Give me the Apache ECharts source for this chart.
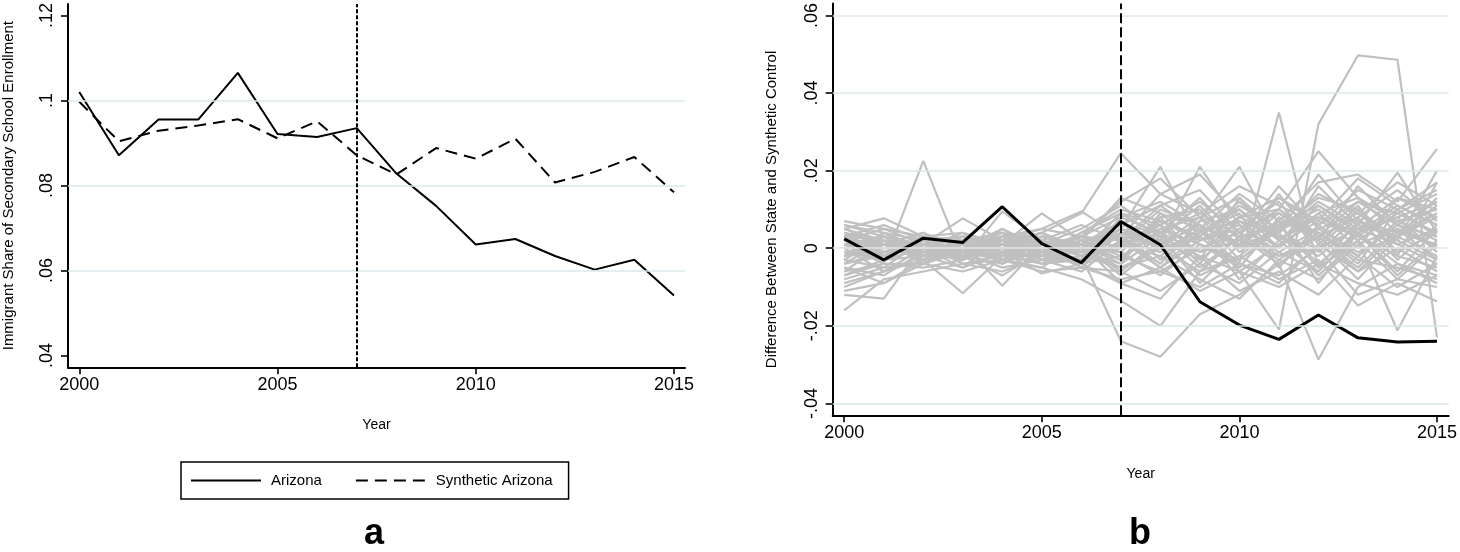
<!DOCTYPE html>
<html>
<head>
<meta charset="utf-8">
<script src="https://cdn.jsdelivr.net/npm/echarts@6/dist/echarts.min.js"></script>
<style>
html,body{margin:0;padding:0;background:#fff;}
#chart{width:1460px;height:552px;}
</style>
</head>
<body>
<div id="chart"></div>
<script>
// ---------- data ----------
const years = [2000,2001,2002,2003,2004,2005,2006,2007,2008,2009,2010,2011,2012,2013,2014,2015];
const yearTicks = [2000, 2005, 2010, 2015];
const treatmentYear = 2007;

// panel a
const arizona      = [0.1020,0.0871,0.0955,0.0955,0.1065,0.0921,0.0914,0.0935,0.0828,0.0752,0.0661,0.0674,0.0634,0.0602,0.0625,0.0541];
const synthArizona = [0.0997,0.0904,0.0929,0.0941,0.0956,0.0911,0.0951,0.0871,0.0826,0.0888,0.0863,0.0910,0.0807,0.0832,0.0867,0.0784];
const leftTicks = [0.04, 0.06, 0.08, 0.10, 0.12];
const leftGrid  = [0.06, 0.08, 0.10];

// panel b
const arizonaGap = [0.0024,-0.0030,0.0026,0.0015,0.0107,0.0012,-0.0037,0.0069,0.0009,-0.0138,-0.0198,-0.0235,-0.0172,-0.0231,-0.0242,-0.0240];
const rightTicks = [-0.04, -0.02, 0, 0.02, 0.04, 0.06];
const rightGrid  = [-0.04, -0.02, 0, 0.02, 0.04, 0.06];

const placebo01 = [ 0.004, 0.002,-0.001, 0.001,-0.002, 0.003, 0.001, 0.006, 0.004, 0.009, 0.003, 0.006, 0.011, 0.004, 0.008, 0.012];
const placebo02 = [-0.003,-0.005, 0.002,-0.001, 0.003,-0.002,-0.004, 0.002,-0.005, 0.004, 0.010, 0.002,-0.006, 0.005, 0.001,-0.004];
const placebo03 = [ 0.001,-0.004, 0.0225,-0.003, 0.002, 0.000, 0.003, 0.008, 0.012, 0.006, 0.001, 0.009, 0.004,-0.002, 0.006, 0.003];
const placebo04 = [-0.002, 0.000, 0.001,-0.002, 0.001, 0.004, 0.009, 0.0245, 0.014, 0.019, 0.008, 0.013, 0.006, 0.015, 0.010, 0.017];
const placebo05 = [ 0.002, 0.001,-0.002, 0.000,-0.001, 0.002,-0.002,-0.024,-0.028,-0.017,-0.012,-0.004, 0.003,-0.006, 0.004, 0.001];
const placebo06 = [-0.002, 0.001,-0.001, 0.002,-0.003, 0.001,-0.002, 0.004, 0.003,-0.002,-0.006,-0.021, 0.032, 0.0497, 0.0486,-0.023];
const placebo07 = [ 0.000, 0.003,-0.002, 0.001, 0.004,-0.003, 0.002,-0.003, 0.005, 0.001,-0.004, 0.035,-0.005, 0.007, 0.002,-0.003];
const placebo08 = [-0.016,-0.008,-0.006,-0.004,-0.003,-0.006,-0.005,-0.008,-0.006,-0.010,-0.004,-0.007, 0.000,-0.012,-0.008,-0.010];
const placebo09 = [ 0.007, 0.005, 0.003, 0.001, 0.002, 0.004, 0.000, 0.005, 0.021, 0.002, 0.008, 0.004, 0.012, 0.006, 0.003, 0.009];
const placebo10 = [-0.012,-0.013, 0.001,-0.004,-0.006,-0.002, 0.001,-0.006, 0.002, 0.021, 0.006,-0.001, 0.005, 0.009, 0.001, 0.005];
const placebo11 = [ 0.005, 0.0077, 0.003,-0.001, 0.000, 0.002,-0.001, 0.003,-0.004, 0.007, 0.021, 0.002, 0.008, 0.004, 0.011, 0.006];
const placebo12 = [-0.009,-0.006,-0.003,-0.0116,-0.002,-0.004,-0.003, 0.001,-0.002,-0.008,-0.013,-0.003, 0.004,-0.003,-0.005,-0.008];
const placebo13 = [ 0.003,-0.002, 0.001, 0.0077, 0.002,-0.001, 0.004, 0.009, 0.006, 0.012, 0.004, 0.010, 0.025, 0.013, 0.007, 0.010];
const placebo14 = [-0.006,-0.004,-0.005,-0.003, 0.0095, 0.002,-0.002,-0.005, 0.000,-0.006, 0.003,-0.004,-0.0287,-0.010,-0.004,-0.007];
const placebo15 = [ 0.002,-0.001, 0.003, 0.001,-0.0097, 0.001, 0.003, 0.000, 0.007, 0.003,-0.005, 0.008, 0.002,-0.008, 0.003, 0.008];
const placebo16 = [-0.004, 0.002,-0.003, 0.000, 0.001, 0.009, 0.002, 0.013, 0.009, 0.005, 0.014, 0.007, 0.017, 0.019, 0.012, 0.0256];
const placebo17 = [ 0.006, 0.004, 0.002, 0.003,-0.001,-0.0065,-0.004,-0.002, 0.004,-0.001, 0.007, 0.003,-0.002, 0.006, 0.0195, 0.004];
const placebo18 = [-0.011,-0.009,-0.004,-0.006,-0.003,-0.005,-0.008,-0.0135,-0.020,-0.006,-0.002,-0.008,-0.003,-0.0148,-0.009,-0.0137];
const placebo19 = [ 0.001, 0.003, 0.000,-0.002, 0.003, 0.005, 0.0095, 0.003, 0.001, 0.008,-0.003, 0.005, 0.010, 0.002, 0.009, 0.014];
const placebo20 = [-0.001,-0.003,-0.002, 0.002, 0.000,-0.001, 0.001, 0.007,-0.003, 0.004, 0.009,-0.005, 0.006,-0.002, 0.007, 0.002];
const placebo21 = [ 0.003, 0.000, 0.002,-0.004,-0.002, 0.003, 0.000,-0.001, 0.008, 0.010,-0.001, 0.006,-0.004, 0.004,-0.006, 0.005];
const placebo22 = [-0.005,-0.007,-0.001, 0.002,-0.004, 0.000,-0.003, 0.004, 0.002,-0.003, 0.005, 0.012,-0.001, 0.008,-0.003, 0.006];
const placebo23 = [ 0.004, 0.001, 0.004, 0.000, 0.005,-0.002, 0.001,-0.007, 0.001, 0.006,-0.006, 0.001, 0.007, 0.003,-0.002,-0.005];
const placebo24 = [-0.008,-0.005,-0.004,-0.001,-0.005,-0.003,-0.006, 0.002, 0.006,-0.001, 0.002,-0.002, 0.003,-0.005, 0.005, 0.000];
const placebo25 = [ 0.000, 0.002,-0.001,-0.003, 0.001,-0.004, 0.000, 0.006, 0.011, 0.004, 0.007, 0.000, 0.009, 0.013, 0.004, 0.011];
const placebo26 = [ 0.006, 0.003, 0.001, 0.002, 0.004, 0.001, 0.005, 0.011, 0.004, 0.013, 0.002, 0.010, 0.003, 0.008, 0.015, 0.007];
const placebo27 = [-0.003, 0.004,-0.002,-0.001,-0.003, 0.002,-0.001,-0.004, 0.003,-0.009, 0.001, 0.004,-0.007, 0.002,-0.0212,-0.002];
const placebo28 = [-0.007,-0.003, 0.000,-0.002, 0.002,-0.002,-0.001, 0.005, 0.000, 0.003, 0.012, 0.003, 0.000, 0.010, 0.002, 0.020];
const placebo29 = [ 0.002, 0.005, 0.001, 0.003,-0.001, 0.000, 0.002,-0.002,-0.006, 0.000, 0.004,-0.003,-0.008, 0.001, 0.005,-0.003];
const placebo30 = [-0.001,-0.002, 0.003, 0.002, 0.000,-0.003,-0.002, 0.001, 0.005, 0.008, 0.001, 0.007, 0.004,-0.004, 0.010, 0.003];
const placebo31 = [ 0.005, 0.001,-0.003, 0.001, 0.003, 0.002,-0.005,-0.006,-0.011,-0.004,-0.009,-0.001,-0.006, 0.004,-0.004,-0.009];
const placebo32 = [-0.010,-0.006,-0.002,-0.005,-0.001,-0.004,-0.002, 0.000, 0.007, 0.002, 0.005, 0.009, 0.002, 0.016, 0.006, 0.012];
const placebo33 = [ 0.001, 0.000, 0.002, 0.003, 0.001,-0.001, 0.003, 0.002,-0.001, 0.005,-0.008, 0.002, 0.011, 0.005, 0.013, 0.008];
const placebo34 = [-0.002,-0.001, 0.000,-0.003, 0.002, 0.001,-0.004, 0.008, 0.004,-0.005, 0.003, 0.016, 0.005,-0.001, 0.003,-0.002];
const placebo35 = [ 0.003, 0.002,-0.004, 0.000,-0.002, 0.003, 0.001,-0.003, 0.009, 0.001,-0.003, 0.005, 0.013, 0.010,-0.001, 0.004];
const placebo36 = [-0.004,-0.002, 0.001,-0.001, 0.004,-0.001, 0.002, 0.003,-0.005, 0.002, 0.006,-0.002, 0.000, 0.005, 0.008,-0.001];
const placebo37 = [ 0.000,-0.006, 0.000, 0.004, 0.001, 0.000,-0.003, 0.005, 0.002,-0.007,-0.002, 0.006,-0.005, 0.002,-0.008, 0.001];
const placebo38 = [-0.006, 0.001,-0.002,-0.002,-0.004, 0.002, 0.000,-0.005,-0.002, 0.005,-0.004,-0.009, 0.001,-0.006, 0.000,-0.006];
const placebo39 = [ 0.002,-0.001, 0.001, 0.000, 0.003,-0.002, 0.004, 0.010, 0.007, 0.003, 0.011, 0.005, 0.008, 0.003, 0.010, 0.015];
const placebo40 = [-0.003, 0.003,-0.004, 0.001,-0.001, 0.004,-0.002, 0.001, 0.010, 0.006, 0.000, 0.004, 0.019, 0.007, 0.004, 0.009];
const placebo41 = [ 0.004,-0.002, 0.002,-0.002, 0.001,-0.003, 0.001,-0.009,-0.005,-0.011,-0.006,-0.010,-0.004,-0.009,-0.012,-0.007];
const placebo42 = [-0.001, 0.001,-0.003, 0.002,-0.002, 0.001,-0.001, 0.003, 0.014, 0.009, 0.016, 0.011, 0.006, 0.012, 0.009, 0.004];
const placebo43 = [ 0.003, 0.006, 0.002,-0.001, 0.002, 0.005, 0.003, 0.012, 0.018, 0.008, 0.013, 0.004, 0.014, 0.009, 0.017, 0.011];
const placebo44 = [-0.005,-0.009,-0.003,-0.002,-0.007,-0.001,-0.004,-0.009,-0.013,-0.002,-0.011,-0.006,-0.012,-0.002,-0.010,-0.004];
const placebo45 = [ 0.001,-0.003, 0.003, 0.004,-0.004, 0.002, 0.006, 0.002, 0.011, 0.015, 0.004, 0.013, 0.007, 0.018, 0.011, 0.006];
const placebo46 = [-0.002, 0.004, 0.000,-0.005, 0.003,-0.003, 0.001,-0.004, 0.008,-0.003, 0.013, 0.002, 0.009, 0.000, 0.013, 0.010];
const placebo47 = [ 0.005, 0.002,-0.002, 0.003, 0.000, 0.004,-0.001, 0.009, 0.003, 0.011, 0.000, 0.014, 0.001, 0.011,-0.002, 0.017];
const placebo48 = [-0.007,-0.004,-0.004, 0.000,-0.003,-0.005, 0.002,-0.001,-0.007, 0.001,-0.005, 0.007,-0.009, 0.004,-0.007, 0.002];
const placebo49 = [ 0.000, 0.001, 0.004,-0.003, 0.005, 0.000,-0.005, 0.004, 0.000, 0.007, 0.010, 0.000, 0.016, 0.006, 0.003, 0.013];
const placebo50 = [-0.004,-0.001,-0.001, 0.002,-0.002,-0.002, 0.003, 0.000, 0.006,-0.004, 0.008, 0.010, 0.003, 0.012, 0.006, 0.000];

const placeboGaps = [placebo01,placebo02,placebo03,placebo04,placebo05,placebo06,placebo07,placebo08,placebo09,placebo10,
  placebo11,placebo12,placebo13,placebo14,placebo15,placebo16,placebo17,placebo18,placebo19,placebo20,
  placebo21,placebo22,placebo23,placebo24,placebo25,placebo26,placebo27,placebo28,placebo29,placebo30,
  placebo31,placebo32,placebo33,placebo34,placebo35,placebo36,placebo37,placebo38,placebo39,placebo40,
  placebo41,placebo42,placebo43,placebo44,placebo45,placebo46,placebo47,placebo48,placebo49,placebo50];

// ---------- chart ----------
const FONT = 'Liberation Sans, Arial, Helvetica, sans-serif';
const pair = arr => years.map((y, i) => [y, arr[i]]);
const fmt = v => {
  if (Math.abs(v) < 1e-9) return '0';
  return String(+v.toFixed(2)).replace('0.', '.');
};
const gridColor = '#dbe8eb';

function xAxisCfg(gridIndex, min, max, nameGap) {
  return {
    type: 'value', gridIndex, min, max,
    name: 'Year', nameLocation: 'middle', nameGap,
    nameTextStyle: { fontFamily: FONT, fontSize: 14, color: '#000' },
    axisLine: { show: true, onZero: false, lineStyle: { color: '#000', width: 2 } },
    axisTick: { show: true, length: 7, customValues: yearTicks, lineStyle: { color: '#000', width: 1.6 } },
    axisLabel: { customValues: yearTicks, margin: 9, fontFamily: FONT, fontSize: 18, color: '#000', formatter: v => String(v) },
    splitLine: { show: false }
  };
}
function yAxisCfg(gridIndex, min, max, ticks, name, nameGap) {
  return {
    type: 'value', gridIndex, min, max,
    name, nameLocation: 'middle', nameRotate: 90, nameGap,
    nameTextStyle: { fontFamily: FONT, fontSize: 15, color: '#000' },
    axisLine: { show: true, onZero: false, lineStyle: { color: '#000', width: 2 } },
    axisTick: { show: true, length: 7, customValues: ticks, lineStyle: { color: '#000', width: 1.6 } },
    axisLabel: { customValues: ticks, rotate: 90, margin: 12, fontFamily: FONT, fontSize: 18, color: '#000', formatter: fmt },
    splitLine: { show: false }
  };
}
function gridSeries(xi, yi, values) {
  return {
    type: 'line', xAxisIndex: xi, yAxisIndex: yi, data: [], silent: true, z: 1,
    markLine: {
      silent: true, symbol: 'none', label: { show: false }, animation: false,
      lineStyle: { color: gridColor, width: 1.5, type: 'solid' },
      data: values.map(v => ({ yAxis: v }))
    }
  };
}

const series = [];
// panel a
series.push(gridSeries(0, 0, leftGrid));
series.push({
  name: 'Arizona', type: 'line', xAxisIndex: 0, yAxisIndex: 0, data: pair(arizona),
  symbol: 'none', z: 3, lineStyle: { color: '#000', width: 2, type: 'solid' }, itemStyle: { color: '#000' },
  markLine: {
    silent: true, symbol: 'none', label: { show: false }, animation: false,
    lineStyle: { color: '#000', width: 2, type: [4, 2] },
    data: [{ xAxis: treatmentYear }]
  }
});
series.push({
  name: 'Synthetic Arizona', type: 'line', xAxisIndex: 0, yAxisIndex: 0, data: pair(synthArizona),
  symbol: 'none', z: 3, lineStyle: { color: '#000', width: 2, type: [12, 7] }, itemStyle: { color: '#000' }
});
// panel b
series.push(gridSeries(1, 1, rightGrid));
placeboGaps.forEach((arr, i) => {
  series.push({
    name: 'placebo' + (i + 1), type: 'line', xAxisIndex: 1, yAxisIndex: 1, data: pair(arr),
    symbol: 'none', z: 2, silent: true, lineStyle: { color: '#c0c0c0', width: 2.2 }, itemStyle: { color: '#c0c0c0' }
  });
});
series.push({
  name: 'Arizona gap', type: 'line', xAxisIndex: 1, yAxisIndex: 1, data: pair(arizonaGap),
  symbol: 'none', z: 4, lineStyle: { color: '#000', width: 3 }, itemStyle: { color: '#000' },
  markLine: {
    silent: true, symbol: 'none', label: { show: false }, animation: false,
    lineStyle: { color: '#000', width: 2, type: [10, 4] },
    data: [{ xAxis: treatmentYear }]
  }
});

const option = {
  animation: false,
  backgroundColor: '#fff',
  textStyle: { fontFamily: FONT },
  title: [
    { text: 'a', left: 374, top: 516, textAlign: 'center', padding: 0,
      textStyle: { fontFamily: FONT, fontSize: 36, fontWeight: 'bold', color: '#000' } },
    { text: 'b', left: 1140, top: 516, textAlign: 'center', padding: 0,
      textStyle: { fontFamily: FONT, fontSize: 36, fontWeight: 'bold', color: '#000' } }
  ],
  legend: {
    data: ['Arizona', 'Synthetic Arizona'],
    left: 181, top: 462,
    orient: 'horizontal',
    itemWidth: 70, itemHeight: 14, itemGap: 33,
    padding: [11, 16, 11, 9],
    borderColor: '#000', borderWidth: 1.5,
    selectedMode: false,
    itemStyle: { opacity: 0, color: 'transparent', borderWidth: 0 },
    textStyle: { fontFamily: FONT, fontSize: 15, color: '#000', padding: [0, 0, 0, 5] }
  },
  grid: [
    { left: 66.7, top: 0, width: 618.3, height: 367.3, containLabel: false },
    { left: 832.7, top: 0, width: 619, height: 415.3, containLabel: false }
  ],
  xAxis: [
    xAxisCfg(0, 1999.716, 2015.278, 51),
    xAxisCfg(1, 1999.708, 2015.296, 52)
  ],
  yAxis: [
    yAxisCfg(0, 0.03721, 0.12272, leftTicks, 'Immigrant Share of Secondary School Enrollment', 52),
    yAxisCfg(1, -0.04307, 0.06307, rightTicks, 'Difference Between State and Synthetic Control', 53)
  ],
  series
};

const chart = echarts.init(document.getElementById('chart'), null, { renderer: 'canvas' });
chart.setOption(option);
</script>
</body>
</html>
